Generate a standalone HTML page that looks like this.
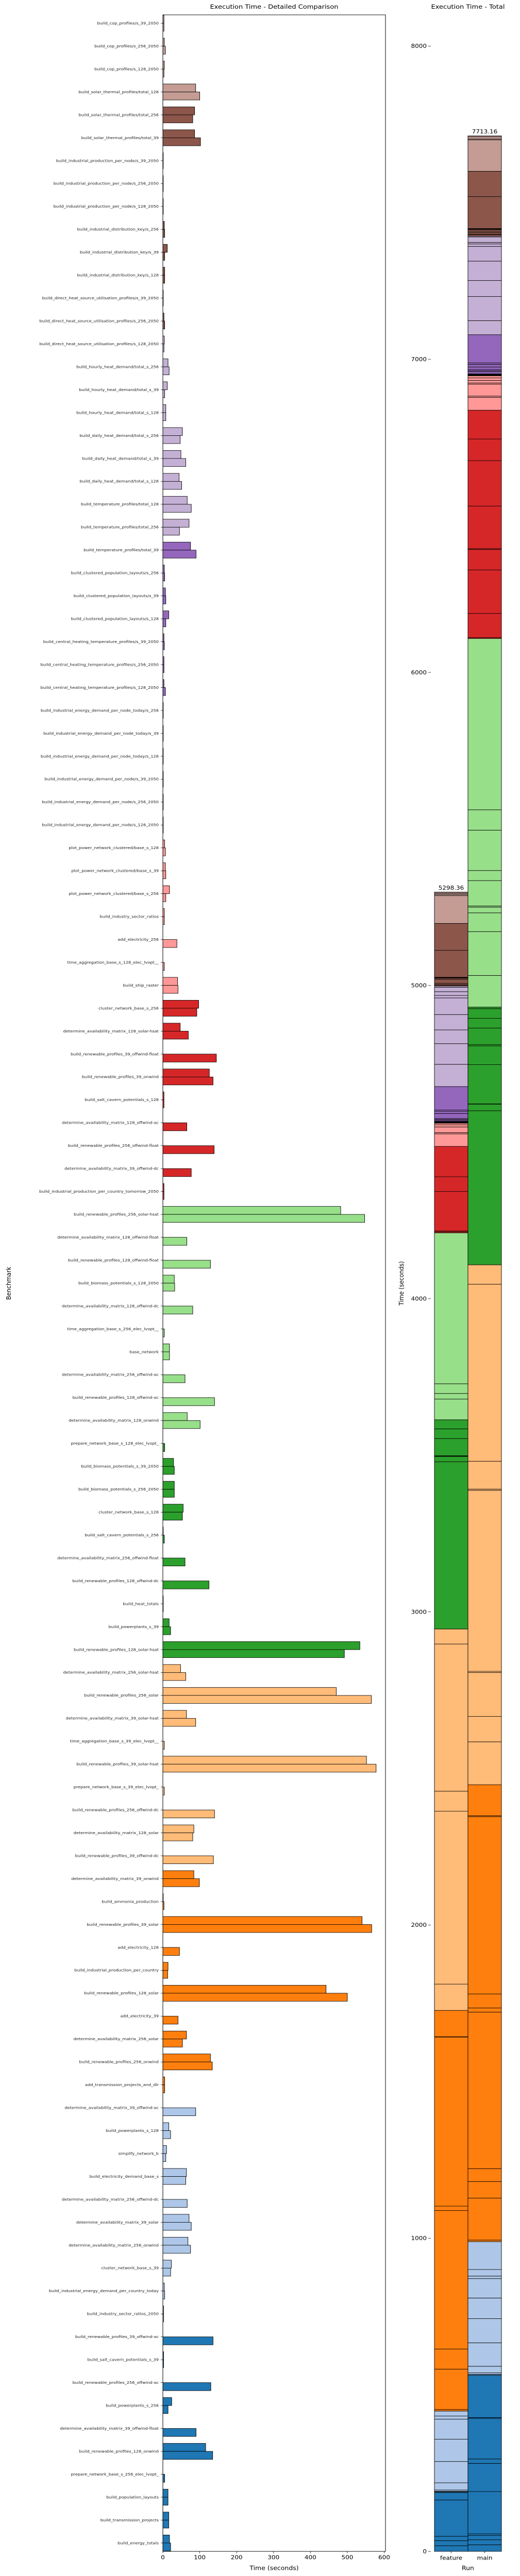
<!DOCTYPE html>
<html><head><meta charset="utf-8"><title>Execution Time</title>
<style>
html,body{margin:0;padding:0;background:#fff;width:100%;height:100%;overflow:hidden;}
svg{display:block;position:absolute;left:0;top:0;width:100vw;height:100vh;font-family:"DejaVu Sans","Liberation Sans",sans-serif;}
</style></head>
<body>
<svg id="chart" viewBox="0 0 1009 5540" preserveAspectRatio="none" xmlns="http://www.w3.org/2000/svg">
<rect width="1009" height="5540" fill="#fff"/>
<g id="left"></g><g id="right"></g>
</svg>
<script>
const categories = [
"build_cop_profiles/s_39_2050","build_cop_profiles/s_256_2050","build_cop_profiles/s_128_2050",
"build_solar_thermal_profiles/total_128","build_solar_thermal_profiles/total_256","build_solar_thermal_profiles/total_39",
"build_industrial_production_per_node/s_39_2050","build_industrial_production_per_node/s_256_2050","build_industrial_production_per_node/s_128_2050",
"build_industrial_distribution_key/s_256","build_industrial_distribution_key/s_39","build_industrial_distribution_key/s_128",
"build_direct_heat_source_utilisation_profiles/s_39_2050","build_direct_heat_source_utilisation_profiles/s_256_2050","build_direct_heat_source_utilisation_profiles/s_128_2050",
"build_hourly_heat_demand/total_s_256","build_hourly_heat_demand/total_s_39","build_hourly_heat_demand/total_s_128",
"build_daily_heat_demand/total_s_256","build_daily_heat_demand/total_s_39","build_daily_heat_demand/total_s_128",
"build_temperature_profiles/total_128","build_temperature_profiles/total_256","build_temperature_profiles/total_39",
"build_clustered_population_layouts/s_256","build_clustered_population_layouts/s_39","build_clustered_population_layouts/s_128",
"build_central_heating_temperature_profiles/s_39_2050","build_central_heating_temperature_profiles/s_256_2050","build_central_heating_temperature_profiles/s_128_2050",
"build_industrial_energy_demand_per_node_today/s_256","build_industrial_energy_demand_per_node_today/s_39","build_industrial_energy_demand_per_node_today/s_128",
"build_industrial_energy_demand_per_node/s_39_2050","build_industrial_energy_demand_per_node/s_256_2050","build_industrial_energy_demand_per_node/s_128_2050",
"plot_power_network_clustered/base_s_128","plot_power_network_clustered/base_s_39","plot_power_network_clustered/base_s_256",
"build_industry_sector_ratios","add_electricity_256","time_aggregation_base_s_128_elec_lvopt__","build_ship_raster",
"cluster_network_base_s_256","determine_availability_matrix_128_solar-hsat","build_renewable_profiles_39_offwind-float",
"build_renewable_profiles_39_onwind","build_salt_cavern_potentials_s_128","determine_availability_matrix_128_offwind-ac",
"build_renewable_profiles_256_offwind-float","determine_availability_matrix_39_offwind-dc","build_industrial_production_per_country_tomorrow_2050",
"build_renewable_profiles_256_solar-hsat","determine_availability_matrix_128_offwind-float","build_renewable_profiles_128_offwind-float",
"build_biomass_potentials_s_128_2050","determine_availability_matrix_128_offwind-dc","time_aggregation_base_s_256_elec_lvopt__",
"base_network","determine_availability_matrix_256_offwind-ac","build_renewable_profiles_128_offwind-ac",
"determine_availability_matrix_128_onwind","prepare_network_base_s_128_elec_lvopt_","build_biomass_potentials_s_39_2050",
"build_biomass_potentials_s_256_2050","cluster_network_base_s_128","build_salt_cavern_potentials_s_256",
"determine_availability_matrix_256_offwind-float","build_renewable_profiles_128_offwind-dc","build_heat_totals",
"build_powerplants_s_39","build_renewable_profiles_128_solar-hsat","determine_availability_matrix_256_solar-hsat",
"build_renewable_profiles_256_solar","determine_availability_matrix_39_solar-hsat","time_aggregation_base_s_39_elec_lvopt__",
"build_renewable_profiles_39_solar-hsat","prepare_network_base_s_39_elec_lvopt_","build_renewable_profiles_256_offwind-dc",
"determine_availability_matrix_128_solar","build_renewable_profiles_39_offwind-dc","determine_availability_matrix_39_onwind",
"build_ammonia_production","build_renewable_profiles_39_solar","add_electricity_128",
"build_industrial_production_per_country","build_renewable_profiles_128_solar","add_electricity_39",
"determine_availability_matrix_256_solar","build_renewable_profiles_256_onwind","add_transmission_projects_and_dlr",
"determine_availability_matrix_39_offwind-ac","build_powerplants_s_128","simplify_network_b",
"build_electricity_demand_base_s","determine_availability_matrix_256_offwind-dc","determine_availability_matrix_39_solar",
"determine_availability_matrix_256_onwind","cluster_network_base_s_39","build_industrial_energy_demand_per_country_today",
"build_industry_sector_ratios_2050","build_renewable_profiles_39_offwind-ac","build_salt_cavern_potentials_s_39",
"build_renewable_profiles_256_offwind-ac","build_powerplants_s_256","determine_availability_matrix_39_offwind-float",
"build_renewable_profiles_128_onwind","prepare_network_base_s_256_elec_lvopt_","build_population_layouts",
"build_transmission_projects","build_energy_totals"
];
const featureTimes = [
3,4,4,89,86,86,1,1,1,4,
12,5,1,3,4,14,12,8,53,49,
44,66,71,75,4,7,16,3,3,3,
1,1,1,1,1,1,5,7,18,4,
0,0,40,97,47,0,126,3,0,0,
0,3,482,0,0,31,0,0,18,0,
0,66,0,29,31,55,1,0,0,1,
17,534,48,470,64,0,552,0,0,84,
0,84,1,540,0,14,442.36,0,64,129,
5,0,16,10,64,0,71,68,23,4,
2,0,2,0,24,0,116,0,14,16,18
];
const mainTimes = [
3,7,3,100,81,102,1,1,1,5,
5,5,1,5,3,17,5,8,47,62,
51,77,45,90,5,8,8,4,3,7,
1,1,1,1,1,1,7,8,8,4,
38,4,41,92,69,145,136,3,65,139,
77,3,547,65,129,32,81,4,18,60,
140,101,5,31,31,53,4,60,125,1,
21,492,62,565.16,89,4,578,4,140,81,
137,99,3,566,45,13,500,41,53,134,
5,89,21,8,62,66,77,75,21,5,
2,136,2,130,14,90,135,5,14,16,21
];
const runs = ["feature","main"];
const xTicks = [0,100,200,300,400,500,600];
const yTicksTotal = [0,1000,2000,3000,4000,5000,6000,7000,8000];
const groupSizes = [4,10,9,13,7,9,10,10,9,10,10,10];
const groupColors = ["#c49c94","#8c564b","#c5b0d5","#9467bd","#ff9896","#d62728","#98df8a","#2ca02c","#ffbb78","#ff7f0e","#aec7e8","#1f77b4"];

const NS="http://www.w3.org/2000/svg";
function mk(tag, attrs, parent, text){
  const e=document.createElementNS(NS,tag);
  for(const k in attrs) e.setAttribute(k,attrs[k]);
  if(text!==undefined) e.textContent=text;
  parent.appendChild(e); return e;
}
const colorOf = [];
groupSizes.forEach((n,g)=>{for(let i=0;i<n;i++) colorOf.push(groupColors[g]);});

const L={x0:316,x1:748,y0:32,y1:5487,xmax:603.5};
const xs=v=>L.x0+v*(L.x1-L.x0)/L.xmax;
const N=categories.length;
const firstC=50, lastC=5469;
const yc=i=>firstC+i*(lastC-firstC)/(N-1);
const bh=17.2;
const left=document.getElementById('left');

const lt=mk('text',{x:(L.x0+L.x1)/2,y:19,'text-anchor':'middle','font-size':'13'},left,'Execution Time - Detailed Comparison');



categories.forEach((c,i)=>{
  const cy=yc(i);
  const lab=mk('text',{x:308,y:cy,'text-anchor':'end','dominant-baseline':'central','font-size':'8.2',fill:'#222'},left,c);
  
  
  const tk=mk('line',{x1:L.x0-4,x2:L.x0,y1:cy,y2:cy,stroke:'#000','stroke-width':0.8},left);
  
  
  [featureTimes[i],mainTimes[i]].forEach((v,k)=>{
    if(!(v>0)) return;
    const r=mk('rect',{x:xs(0),y:k===0?cy-bh:cy,width:xs(v)-xs(0),height:bh,fill:colorOf[i],stroke:'#000','stroke-width':0.9},left);
    
    
  });
});
const frame=mk('rect',{x:L.x0,y:L.y0,width:L.x1-L.x0,height:L.y1-L.y0,fill:'none',stroke:'#000','stroke-width':1},left);


xTicks.forEach(t=>{
  const x=xs(t);
  const l=mk('line',{x1:x,x2:x,y1:L.y1,y2:L.y1+4,stroke:'#000','stroke-width':0.8},left);
  
  
  const tx=mk('text',{x:x,y:L.y1+17,'text-anchor':'middle','font-size':'12'},left,String(t));
  
  
});
const xl=mk('text',{x:(L.x0+L.x1)/2,y:5527,'text-anchor':'middle','font-size':'12.5'},left,'Time (seconds)');


const yl=mk('text',{x:0,y:0,'text-anchor':'middle','font-size':'12.5',transform:'translate(21,2760) rotate(-90)'},left,'Benchmark');



const R={y0:5487,ppu:(5487-99)/8000,cols:[843,908],w:65};
const ys=v=>R.y0-v*R.ppu;
const right=document.getElementById('right');
const rt=mk('text',{x:908,y:19,'text-anchor':'middle','font-size':'13'},right,'Execution Time - Total');


yTicksTotal.forEach(t=>{
  const y=ys(t);
  const l=mk('line',{x1:831,x2:836,y1:y,y2:y,stroke:'#000','stroke-width':0.8},right);
  
  
  const tx=mk('text',{x:828,y:y,'text-anchor':'end','dominant-baseline':'central','font-size':'12'},right,String(t));
  
  
});
[featureTimes,mainTimes].forEach((arr,k)=>{
  let acc=0;
  const x=R.cols[k];
  for(let i=N-1;i>=0;i--){
    const v=arr[i];
    const r=mk('rect',{x:x,y:ys(acc+v),width:R.w,height:ys(acc)-ys(acc+v),fill:colorOf[i],stroke:'#000','stroke-width':0.9},right);
    
    
    acc+=v;
  }
  const lbl=mk('text',{x:x+R.w/2,y:ys(acc)-5,'text-anchor':'middle','font-size':'12'},right,acc.toFixed(2));
  
  
  const cx=x+R.w/2;
  const tl=mk('line',{x1:cx,x2:cx,y1:R.y0,y2:R.y0+4,stroke:'#000','stroke-width':0.8},right);
  
  
  const rl=mk('text',{x:cx,y:R.y0+18,'text-anchor':'middle','font-size':'12'},right,runs[k]);
  
  
});
const rx=mk('text',{x:908,y:5527,'text-anchor':'middle','font-size':'12.5'},right,'Run');


const ry=mk('text',{x:0,y:0,'text-anchor':'middle','font-size':'12.5',transform:'translate(783,2760) rotate(-90)'},right,'Time (seconds)');


</script>
</body></html>
